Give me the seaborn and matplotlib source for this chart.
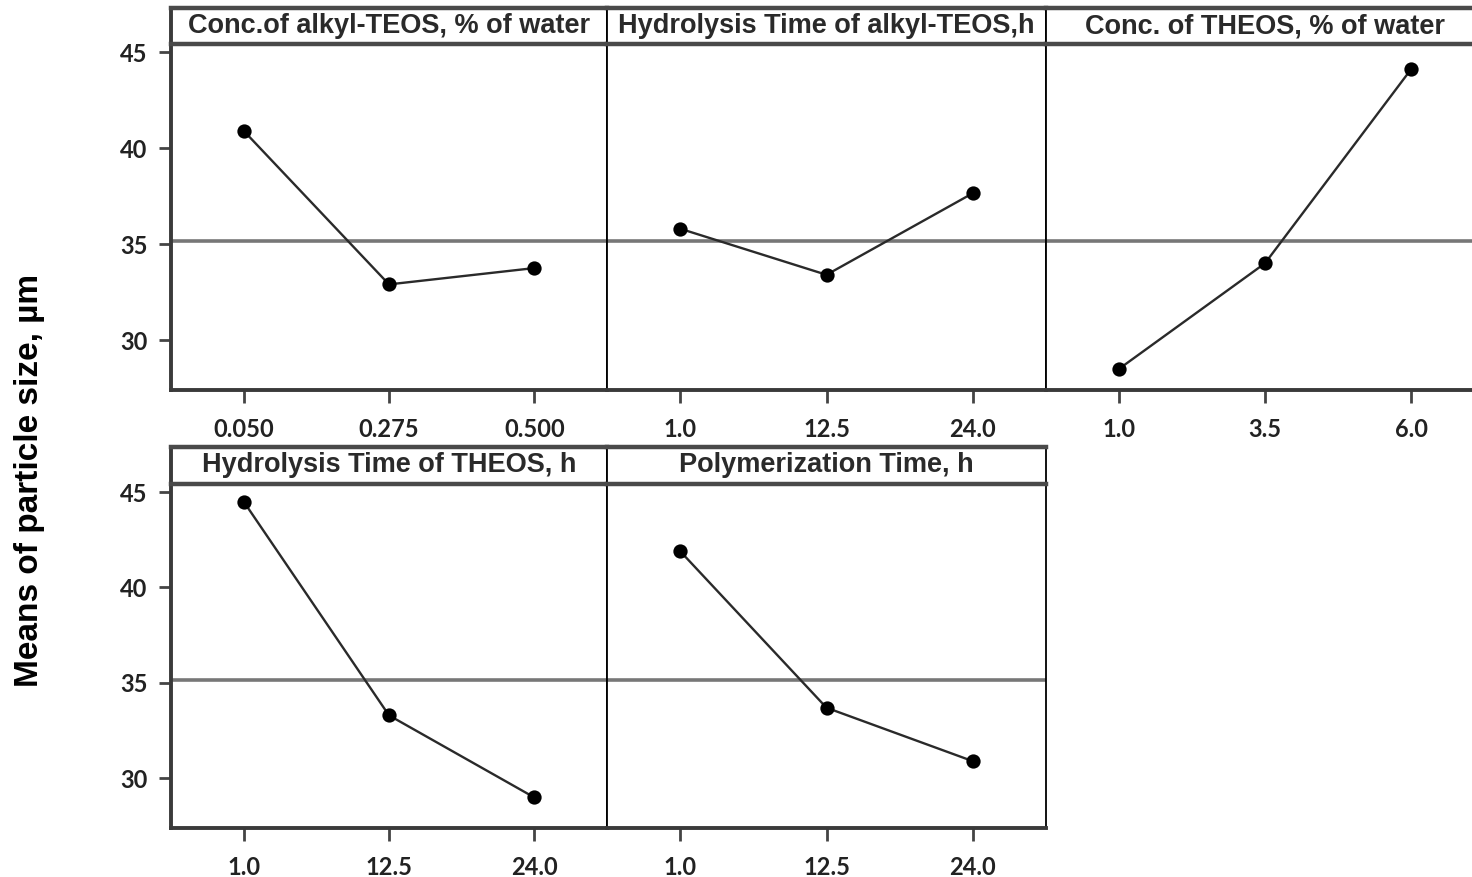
import matplotlib
matplotlib.use("Agg")
import matplotlib.pyplot as plt
import seaborn as sns

# factor levels and mean particle size (um)
titles = [
    "Conc.of alkyl-TEOS, % of water",
    "Hydrolysis Time of alkyl-TEOS,h",
    "Conc. of THEOS, % of water",
    "Hydrolysis Time of THEOS, h",
    "Polymerization Time, h",
]
levels = [
    ["0.050", "0.275", "0.500"],
    ["1.0", "12.5", "24.0"],
    ["1.0", "3.5", "6.0"],
    ["1.0", "12.5", "24.0"],
    ["1.0", "12.5", "24.0"],
]
means = [
    [40.9, 32.9, 33.75],
    [35.8, 33.4, 37.65],
    [28.5, 34.0, 44.1],
    [44.5, 33.3, 29.0],
    [41.9, 33.7, 30.9],
]
grand_mean = 35.15
y_ticks = [30, 35, 40, 45]
y_label = "Means of particle size, µm"

sns.set_style("white")
plt.rcParams["font.family"] = ["Liberation Sans", "DejaVu Sans"]

W, H = 1472, 877
fig = plt.figure(figsize=(W / 100, H / 100), dpi=100)

# panel boxes in pixels: (left, right), (strip top, plot top, plot bottom)
cols = [(171, 607), (607, 1046), (1046, 1484)]
rows = [(8, 44, 390), (447, 484, 828)]
cells = [(0, 0), (0, 1), (0, 2), (1, 0), (1, 1)]

def fx(px):
    return px / W

def fy(px):
    return 1 - px / H

tick_font = ["Lato", "DejaVu Sans"]

for i, (r, c) in enumerate(cells):
    x0, x1 = cols[c]
    s_top, p_top, p_bot = rows[r]

    ax = fig.add_axes([fx(x0), fy(p_bot), fx(x1 - x0), (p_bot - p_top) / H])
    sns.pointplot(x=levels[i], y=means[i], ax=ax, color="#2a2a2a",
                  markers="o", markersize=9, linewidth=1.7)
    for ln in ax.lines:
        ln.set_markerfacecolor("black")
        ln.set_markeredgecolor("black")
    ax.axhline(grand_mean, color="#777777", lw=2.6, zorder=0)
    ax.set_xlim(-0.5, 2.5)
    ax.set_ylim(27.4, 45.42)
    ax.set_yticks(y_ticks)
    ax.set_xlabel("")
    ax.set_ylabel("")

    for side in ["right", "left", "bottom"]:
        ax.spines[side].set_visible(True)
    ax.spines["top"].set_visible(False)
    ax.spines["bottom"].set_linewidth(2.8)
    ax.spines["bottom"].set_color("#3a3a3a")
    ax.spines["right"].set_linewidth(1.3)
    ax.spines["right"].set_color("black")
    if c == 0:
        ax.spines["left"].set_linewidth(2.8)
        ax.spines["left"].set_color("#3a3a3a")
        ax.tick_params(axis="y", left=True, length=9, width=2, color="#444444",
                       pad=8, labelsize=17, labelcolor="#222222")
        for t in ax.get_yticklabels():
            t.set_fontfamily(tick_font)
            t.set_fontweight("bold")
    else:
        ax.spines["left"].set_linewidth(1.3)
        ax.spines["left"].set_color("black")
        ax.tick_params(axis="y", left=False, labelleft=False)
    ax.tick_params(axis="x", bottom=True, length=9, width=2, color="#444444",
                   pad=11, labelsize=17, labelcolor="#222222")
    for t in ax.get_xticklabels():
        t.set_fontfamily(tick_font)
        t.set_fontweight("bold")

    # title strip
    sx = fig.add_axes([fx(x0), fy(p_top), fx(x1 - x0), (p_top - s_top) / H])
    sx.set_xticks([])
    sx.set_yticks([])
    sx.set_facecolor("white")
    for side in ["top", "bottom"]:
        sx.spines[side].set_linewidth(3.2)
        sx.spines[side].set_color("#4a4a4a")
    for side in ["left", "right"]:
        sx.spines[side].set_linewidth(1.3)
        sx.spines[side].set_color("black")
    if c == 0:
        sx.spines["left"].set_linewidth(2.8)
        sx.spines["left"].set_color("#3a3a3a")
    sx.text(0.5, 0.5, titles[i], ha="center", va="center", fontsize=19.5,
            fontweight="bold", color="#2a2a2a",
            family=["Liberation Sans Narrow", "Liberation Sans", "DejaVu Sans"])

fig.text(fx(30), fy(480), y_label, rotation=90, ha="center", va="center",
         fontsize=24, fontweight="bold", color="black")

fig.savefig("out.png", dpi=100)
